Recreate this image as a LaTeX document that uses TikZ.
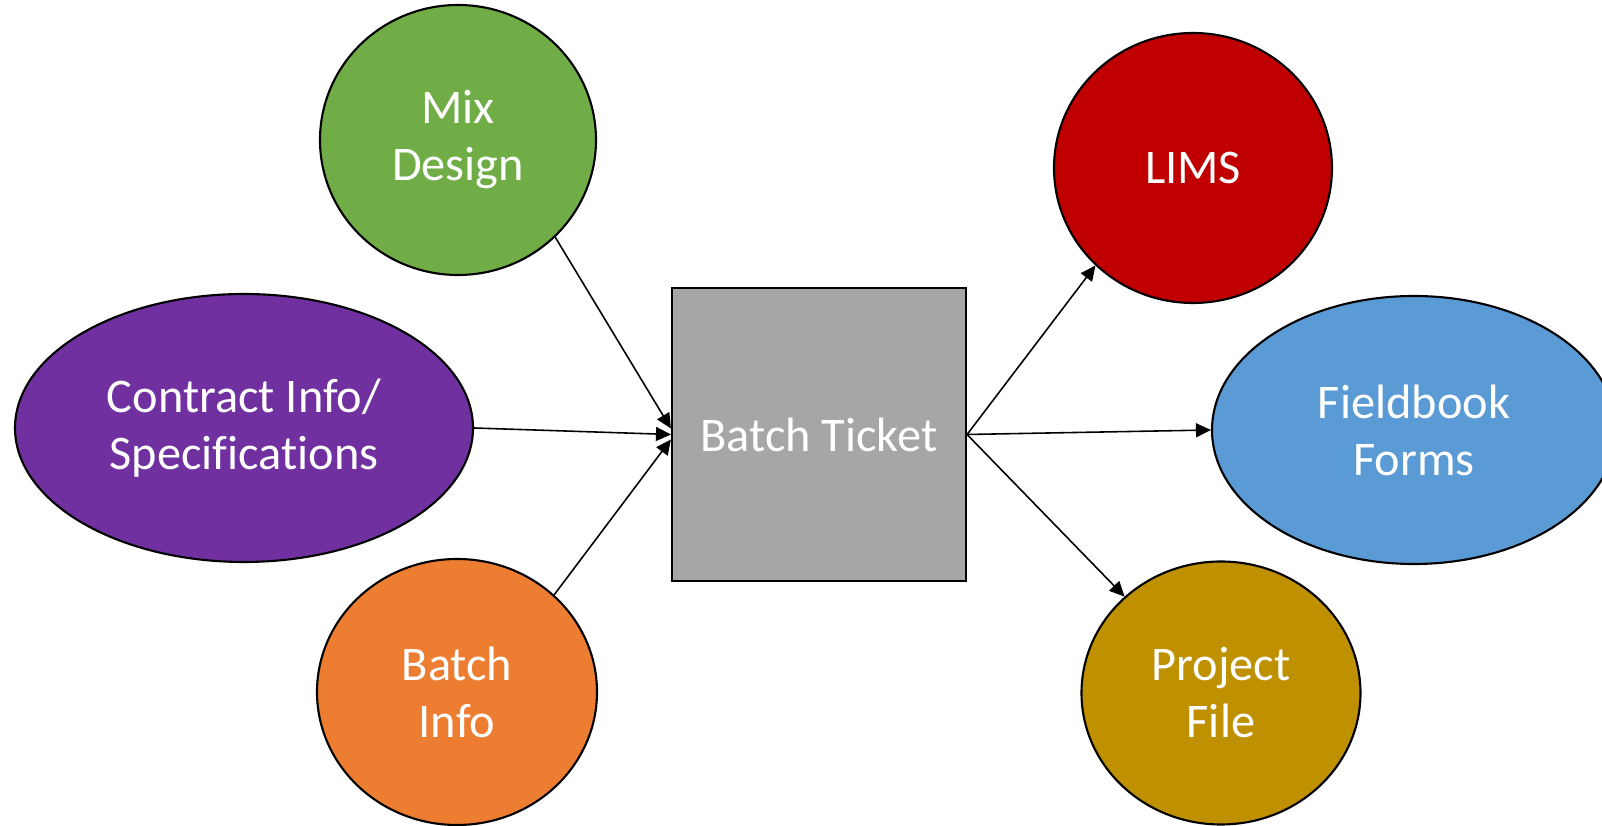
\documentclass[tikz,border=0pt]{standalone}
\usepackage{fontspec}
\setmainfont{Carlito}[Ligatures=NoCommon]
\usetikzlibrary{arrows.meta, shapes.geometric}
\definecolor{mixgreen}{HTML}{70AD47}
\definecolor{specpurple}{HTML}{7030A0}
\definecolor{infoorange}{HTML}{ED7D31}
\definecolor{ticketgray}{HTML}{A6A6A6}
\definecolor{limsred}{HTML}{C00000}
\definecolor{formblue}{HTML}{5B9BD5}
\definecolor{filegold}{HTML}{BF9000}
\tikzset{
    blob/.style = {ellipse, draw = black, line width = 1.2pt, text = white, align = center, inner sep = 0pt,
        font = \fontsize{27.5}{32.4}\selectfont},
    ticketbox/.style = {rectangle, draw = black, line width = 1.2pt, fill = ticketgray, text = white,
        minimum width = 5.88cm, minimum height = 5.86cm, font = \fontsize{27.5}{32.4}\selectfont},
    flow/.style = {-{Triangle[length = 0.3cm, width = 0.28cm]}, line width = 0.9pt}
}

\begin{document}
\begin{tikzpicture}
    \useasboundingbox (0,0) rectangle (32.04,16.52);
    \node[blob, fill = mixgreen, minimum width = 5.52cm, minimum height = 5.40cm] (mix) at (9.16,13.72) {Mix\\Design};
    \node[blob, fill = specpurple, minimum width = 9.16cm, minimum height = 5.36cm] (contract) at (4.88,7.96) {Contract Info/\\Specifications};
    \node[blob, fill = infoorange, minimum width = 5.60cm, minimum height = 5.32cm] (batchinfo) at (9.14,2.68) {Batch\\Info};
    \node[ticketbox] (ticket) at (16.38,7.83) {Batch Ticket};
    \node[blob, fill = limsred, minimum width = 5.56cm, minimum height = 5.40cm] (lims) at (23.86,13.16) {LIMS};
    \node[blob, fill = formblue, minimum width = 8.08cm, minimum height = 5.36cm] (fieldbook) at (28.28,7.92) {Fieldbook\\Forms};
    \node[blob, fill = filegold, minimum width = 5.58cm, minimum height = 5.26cm] (project) at (24.42,2.66) {Project\\File};
    \draw[flow] (mix.-45) -- ([yshift=0.12cm]ticket.west);
    \draw[flow] (contract.east) -- (ticket.west);
    \draw[flow] (batchinfo.45) -- ([yshift=-0.1cm]ticket.west);
    \draw[flow] (ticket.east) -- (lims.225);
    \draw[flow] (ticket.east) -- (fieldbook.west);
    \draw[flow] (ticket.east) -- (project.135);
\end{tikzpicture}
\end{document}
